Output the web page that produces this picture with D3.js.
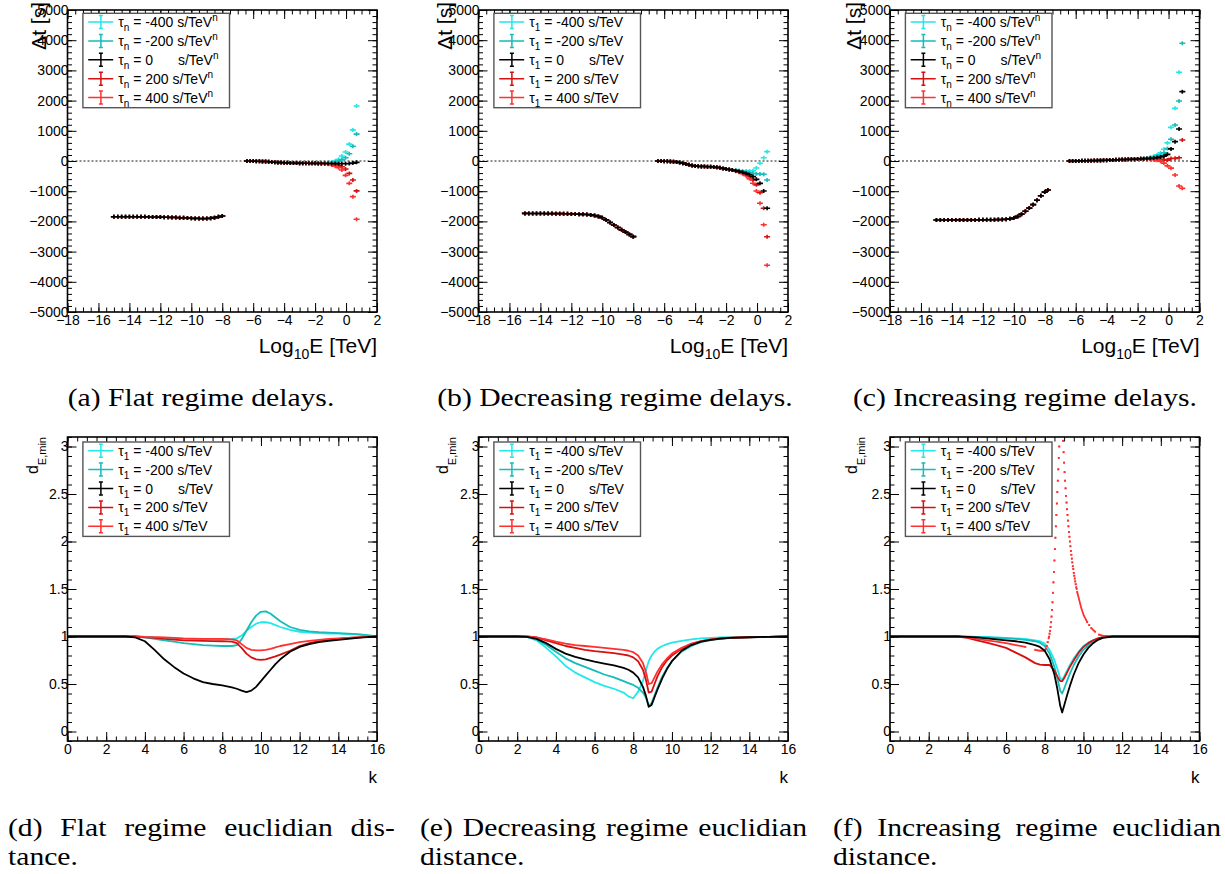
<!DOCTYPE html>
<html>
<head>
<meta charset="utf-8">
<script src="https://cdn.jsdelivr.net/npm/d3@7"></script>
<style>
  body { margin: 0; background: #fff; }
  svg { display: block; }
  text { font-family: "Liberation Sans", Arial, sans-serif; fill: #000; }
  text.cap { font-family: "Liberation Serif", "DejaVu Serif", serif; font-size: 26px; }
</style>
</head>
<body>
<svg id="fig" width="1225" height="874"></svg>
<script>
// ---------------- series labels ----------------
const tauValues = ["-400", "-200", "0", "200", "400"];

// ---------------- tick labels ----------------
const logETicks = [-18, -16, -14, -12, -10, -8, -6, -4, -2, 0, 2];
const delayTicks = [-5000, -4000, -3000, -2000, -1000, 0, 1000, 2000, 3000, 4000, 5000];
const kTicks = [0, 2, 4, 6, 8, 10, 12, 14, 16];
const distTicks = [0, 0.5, 1, 1.5, 2, 2.5, 3];

// ---------------- captions ----------------
const captionsTop = ["(a) Flat regime delays.", "(b) Decreasing regime delays.", "(c) Increasing regime delays."];
const captionsBottomLine1 = ["(d) Flat regime euclidian dis-", "(e) Decreasing regime euclidian", "(f) Increasing regime euclidian"];
const captionsBottomLine2 = ["tance.", "distance.", "distance."];

// ---------------- delays: low-energy branch (same for every tau) ----------------
const lowLogE = [-15, -14.75, -14.5, -14.25, -14, -13.75, -13.5, -13.25, -13, -12.75, -12.5, -12.25, -12,
  -11.75, -11.5, -11.25, -11, -10.75, -10.5, -10.25, -10, -9.75, -9.5, -9.25, -9, -8.75, -8.5, -8.25, -8];
const lowLogEIncr = [-15, -14.75, -14.5, -14.25, -14, -13.75, -13.5, -13.25, -13, -12.75, -12.5, -12.25, -12,
  -11.75, -11.5, -11.25, -11, -10.75, -10.5, -10.25, -10, -9.75, -9.5, -9.25, -9, -8.75, -8.5, -8.25, -8, -7.8];
const lowDelayFlat = [-1845, -1845, -1845, -1846, -1846, -1847, -1848, -1849, -1850, -1852, -1854, -1856, -1858,
  -1861, -1864, -1868, -1872, -1877, -1882, -1888, -1894, -1900, -1906, -1908, -1905, -1895, -1875, -1850, -1822];
const lowDelayDecr = [-1735, -1736, -1737, -1738, -1739, -1740, -1741, -1742, -1743, -1744, -1746, -1748, -1751,
  -1755, -1760, -1766, -1772, -1785, -1805, -1835, -1880, -1950, -2035, -2120, -2200, -2280, -2355, -2430, -2505];
const lowDelayIncr = [-1952, -1952, -1952, -1952, -1951, -1951, -1951, -1950, -1950, -1950, -1950, -1949, -1948,
  -1947, -1946, -1944, -1941, -1937, -1930, -1915, -1885, -1835, -1760, -1665, -1560, -1445, -1300, -1150, -1030, -960];

// ---------------- delays: mid-energy branch (same for every tau) ----------------
const midLogE = [-6.4, -6.2, -6.0, -5.8, -5.6, -5.4, -5.2, -5.0, -4.8, -4.6, -4.4, -4.2, -4.0,
  -3.8, -3.6, -3.4, -3.2, -3.0, -2.8, -2.6, -2.4, -2.2, -2.0, -1.8, -1.6];
const midDelayFlat = [0, -2, -4, -7, -10, -14, -19, -25, -32, -40, -47, -53, -58,
  -62, -65, -68, -70, -72, -74, -75, -76, -77, -78, -79, -80];
const midDelayDecr = [0, -3, -6, -10, -15, -22, -32, -48, -72, -100, -125, -148, -163,
  -172, -178, -184, -188, -192, -200, -210, -225, -245, -265, -282, -297];
const midDelayIncr = [0, 1, 2, 3, 5, 7, 9, 11, 14, 17, 20, 23, 26,
  30, 34, 38, 42, 46, 50, 54, 58, 62, 66, 71, 77];

// ---------------- delays: high-energy tails, one per tau ----------------
const tailLogEFlat = [-1.38, -1.16, -0.93, -0.7, -0.48, -0.27, -0.03, 0.21, 0.44, 0.68];
const tailFlatM400 = [-70, -55, -30, 0, 56, 165, 300, 560, 1030, 1820];
const tailFlatM200 = [-78, -72, -62, -40, -10, 40, 110, 240, 490, 890];
const tailFlat0 = [-82, -84, -85, -86, -87, -88, -88, -85, -70, -45];
const tailFlatP200 = [-88, -95, -105, -120, -150, -190, -265, -410, -630, -990];
const tailFlatP400 = [-92, -105, -130, -170, -220, -300, -475, -740, -1180, -1930];

const tailLogEDecr = [-1.38, -1.16, -0.93, -0.7, -0.49, -0.26, -0.04, 0.19, 0.43, 0.65];
const tailDecrM400 = [-303, -317, -328, -330, -327, -321, -232, -76, 110, 310];
const tailDecrM200 = [-312, -331, -352, -370, -391, -409, -424, -430, -440, -630];
const tailDecr0 = [-320, -345, -375, -410, -455, -519, -607, -740, -993, -1567];
const tailDecrP200 = [-328, -359, -398, -450, -519, -629, -790, -1050, -1567, -2506];
const tailDecrP400 = [-336, -373, -421, -490, -583, -739, -993, -1401, -2109, -3454];

const tailLogEIncr = [-1.4, -1.18, -0.96, -0.74, -0.52, -0.3, -0.07, 0.16, 0.42, 0.68, 0.89];
const tailIncrM400 = [100, 122, 154, 202, 270, 390, 600, 1115, 1744, 2937, null];
const tailIncrM200 = [90, 105, 126, 157, 200, 275, 410, 718, 1192, 1987, 3897];
const tailIncr0 = [80, 88, 98, 112, 130, 160, 220, 400, 640, 1060, 2296];
const tailIncrP200 = [70, 71, 70, 67, 60, 45, 30, 82, 88, 110, 695];
const tailIncrP400 = [60, 54, 42, 22, -10, -70, -160, -236, -464, -828, -905];

// ---------------- euclidian distance curves ----------------
const kFlat = [0, 1, 2, 3, 3.5, 4, 4.5, 5, 5.5, 6, 6.5, 7, 7.5, 8, 8.25, 8.5, 8.75, 9, 9.25, 9.5, 9.75, 10,
  10.25, 10.5, 10.75, 11, 11.5, 12, 12.5, 13, 13.5, 14, 14.5, 15, 15.5, 16];
const distFlatM400 = [1, 1, 1, 1, 1, 0.995, 0.99, 0.985, 0.98, 0.975, 0.97, 0.97, 0.97, 0.97, 0.972, 0.975, 0.98, 1.01,
  1.06, 1.1, 1.135, 1.15, 1.15, 1.14, 1.12, 1.1, 1.07, 1.05, 1.04, 1.035, 1.03, 1.03, 1.025, 1.02, 1.01, 1];
const distFlatM200 = [1, 1, 1, 1, 1, 0.99, 0.975, 0.96, 0.945, 0.93, 0.92, 0.91, 0.905, 0.9, 0.9, 0.9, 0.91, 0.97,
  1.06, 1.15, 1.22, 1.26, 1.265, 1.24, 1.2, 1.16, 1.1, 1.07, 1.055, 1.045, 1.04, 1.035, 1.03, 1.025, 1.015, 1];
const distFlat0 = [1, 1, 1, 1, 0.99, 0.95, 0.86, 0.76, 0.68, 0.61, 0.56, 0.52, 0.5, 0.485, 0.475, 0.465, 0.45, 0.43,
  0.415, 0.43, 0.47, 0.53, 0.59, 0.65, 0.71, 0.76, 0.84, 0.89, 0.92, 0.94, 0.955, 0.965, 0.975, 0.985, 0.993, 1];
const distFlatP200 = [1, 1, 1, 1, 1, 0.99, 0.985, 0.975, 0.968, 0.96, 0.957, 0.955, 0.952, 0.95, 0.948, 0.945, 0.93, 0.88,
  0.82, 0.78, 0.76, 0.755, 0.76, 0.775, 0.79, 0.81, 0.85, 0.9, 0.93, 0.95, 0.965, 0.975, 0.985, 0.99, 0.995, 1];
const distFlatP400 = [1, 1, 1, 1, 1, 0.995, 0.993, 0.99, 0.985, 0.98, 0.978, 0.975, 0.975, 0.975, 0.973, 0.97, 0.96, 0.92,
  0.88, 0.86, 0.855, 0.855, 0.86, 0.87, 0.885, 0.9, 0.92, 0.94, 0.955, 0.965, 0.975, 0.98, 0.985, 0.99, 0.995, 1];

const kDecr = [0, 1, 2, 2.5, 3, 3.5, 4, 4.5, 5, 5.5, 6, 6.5, 7, 7.5, 7.75, 8, 8.25, 8.5, 8.65, 8.8, 8.95, 9.1, 9.25,
  9.5, 9.75, 10, 10.5, 11, 11.5, 12, 12.5, 13, 14, 15, 16];
const distDecrM400 = [1, 1, 1, 0.995, 0.96, 0.88, 0.79, 0.69, 0.62, 0.57, 0.52, 0.48, 0.45, 0.41, 0.37, 0.35, 0.42, 0.53,
  0.64, 0.74, 0.8, 0.84, 0.87, 0.9, 0.92, 0.935, 0.955, 0.97, 0.98, 0.985, 0.99, 0.992, 0.995, 0.997, 1];
const distDecrM200 = [1, 1, 1, 0.995, 0.97, 0.91, 0.84, 0.77, 0.72, 0.68, 0.64, 0.6, 0.57, 0.53, 0.51, 0.49, 0.46, 0.41,
  0.36, 0.27, 0.3, 0.38, 0.46, 0.58, 0.67, 0.74, 0.84, 0.9, 0.94, 0.962, 0.975, 0.983, 0.99, 0.995, 1];
const distDecr0 = [1, 1, 1, 0.995, 0.975, 0.93, 0.87, 0.82, 0.785, 0.76, 0.735, 0.715, 0.695, 0.67, 0.65, 0.62, 0.57, 0.47,
  0.38, 0.26, 0.28, 0.36, 0.44, 0.56, 0.66, 0.74, 0.85, 0.91, 0.945, 0.965, 0.978, 0.985, 0.992, 0.996, 1];
const distDecrP200 = [1, 1, 1, 1, 0.99, 0.96, 0.93, 0.9, 0.88, 0.86, 0.845, 0.835, 0.825, 0.81, 0.8, 0.78, 0.74, 0.65,
  0.55, 0.41, 0.42, 0.5, 0.58, 0.68, 0.75, 0.8, 0.87, 0.92, 0.95, 0.968, 0.979, 0.986, 0.992, 0.996, 1];
const distDecrP400 = [1, 1, 1, 1, 0.99, 0.97, 0.945, 0.925, 0.91, 0.9, 0.89, 0.88, 0.87, 0.86, 0.85, 0.835, 0.8, 0.72,
  0.63, 0.5, 0.51, 0.57, 0.63, 0.71, 0.77, 0.82, 0.88, 0.925, 0.952, 0.97, 0.98, 0.987, 0.993, 0.996, 1];

const kIncr = [0, 1, 2, 3, 3.5, 4, 4.5, 5, 5.5, 6, 6.5, 7, 7.5, 7.75, 8, 8.25, 8.5, 8.65, 8.8, 8.9, 9, 9.15, 9.3,
  9.5, 9.75, 10, 10.25, 10.5, 10.75, 11, 11.5, 12, 13, 14, 15, 16];
const distIncrM400 = [1, 1, 1, 1, 1, 0.998, 0.997, 0.995, 0.99, 0.985, 0.98, 0.975, 0.96, 0.95, 0.925, 0.86, 0.75, 0.66,
  0.56, 0.545, 0.58, 0.64, 0.7, 0.77, 0.84, 0.9, 0.935, 0.96, 0.98, 0.993, 1, 1, 1, 1, 1, 1];
const distIncrM200 = [1, 1, 1, 1, 1, 0.998, 0.995, 0.99, 0.985, 0.98, 0.975, 0.965, 0.95, 0.935, 0.9, 0.82, 0.68, 0.56,
  0.43, 0.4, 0.45, 0.53, 0.61, 0.7, 0.79, 0.86, 0.91, 0.95, 0.975, 0.99, 1, 1, 1, 1, 1, 1];
const distIncr0 = [1, 1, 1, 1, 1, 0.995, 0.99, 0.98, 0.97, 0.96, 0.95, 0.935, 0.91, 0.89, 0.85, 0.76, 0.6, 0.45,
  0.27, 0.2, 0.27, 0.38, 0.48, 0.6, 0.72, 0.81, 0.88, 0.93, 0.965, 0.985, 1, 1, 1, 1, 1, 1];
const distIncrP200 = [1, 1, 1, 1, 1, 0.985, 0.96, 0.935, 0.91, 0.88, 0.83, 0.78, 0.72, 0.705, 0.7, 0.7, 0.64, 0.58,
  0.53, 0.53, 0.56, 0.62, 0.68, 0.75, 0.83, 0.89, 0.93, 0.96, 0.98, 0.993, 1, 1, 1, 1, 1, 1];
// the +400 curve in the increasing regime has a narrow peak, sampled finely there
const kIncrP400 = [0, 1, 2, 3, 3.5, 4, 4.5, 5, 5.5, 6, 6.5, 7, 7.5, 7.75, 8, 8.05, 8.1, 8.15, 8.2,
  8.225, 8.25, 8.275, 8.3, 8.325, 8.35, 8.375, 8.4, 8.425, 8.45, 8.475, 8.5, 8.525, 8.55, 8.575, 8.6,
  8.625, 8.65, 8.675, 8.7, 8.725, 8.75, 8.775, 8.8, 8.85, 8.9, 8.925, 8.95, 8.975,
  9, 9.025, 9.05, 9.075, 9.1, 9.125, 9.15, 9.175, 9.2, 9.225, 9.25, 9.275, 9.3, 9.325, 9.35, 9.375,
  9.4, 9.425, 9.45, 9.475, 9.5, 9.525, 9.55, 9.575, 9.6, 9.625, 9.65, 9.675, 9.7, 9.725, 9.75, 9.775,
  9.8, 9.825, 9.85, 9.875, 9.9, 9.925, 9.95, 9.975, 10, 10.05, 10.1, 10.15, 10.2, 10.3, 10.4, 10.5, 10.6,
  10.8, 11, 11.5, 12, 13, 14, 15, 16];
const distIncrP400 = [1, 1, 1, 1, 1, 0.99, 0.975, 0.96, 0.945, 0.93, 0.91, 0.89, 0.86, 0.85, 0.85, 0.87, 0.9, 0.94, 0.98,
  1.0, 1.03, 1.06, 1.1, 1.15, 1.21, 1.28, 1.36, 1.46, 1.57, 1.68, 1.8, 1.92, 2.04, 2.16, 2.28,
  2.4, 2.52, 2.64, 2.76, 2.88, 3.0, 3.12, 3.24, 3.4, 3.3, 3.18, 3.06, 2.94,
  2.83, 2.73, 2.64, 2.56, 2.48, 2.41, 2.34, 2.28, 2.22, 2.16, 2.1, 2.05, 2.0, 1.95, 1.9, 1.86,
  1.82, 1.78, 1.74, 1.71, 1.67, 1.64, 1.61, 1.58, 1.55, 1.52, 1.5, 1.47, 1.45, 1.43, 1.41, 1.39,
  1.37, 1.35, 1.33, 1.31, 1.29, 1.28, 1.26, 1.25, 1.23, 1.21, 1.19, 1.17, 1.15, 1.12, 1.09, 1.07, 1.05,
  1.02, 1.01, 1, 1, 1, 1, 1, 1];

// ---------------- styling ----------------
const tauColors = ["#22e8e8", "#14bcbc", "#000000", "#d41010", "#ff3030"];
const drawOrder = [0, 1, 3, 4, 2];          // black on top
const colLeft = [67.5, 478.5, 890];
const frameW = 309.5;
const topFrame = [10, 312];
const botFrame = [437, 741];
const fmt = d => (d < 0 ? "\u2212" : "") + Math.abs(d);

const svg = d3.select("#fig");
const defs = svg.append("defs");

function frameClip(id, x0, y0, x1, y1) {
  defs.append("clipPath").attr("id", id).append("rect")
    .attr("x", x0).attr("y", y0).attr("width", x1 - x0).attr("height", y1 - y0);
  return `url(#${id})`;
}

function drawAxes(g, x, y, xMajor, xMinorStep, yMajor, yMinorStep) {
  const [xa, xb] = x.range();
  const [ya, yb] = y.range(); // ya bottom, yb top
  const xd = x.domain(), yd = y.domain();
  const xMinor = d3.range(xd[0], xd[1] + 1e-9, xMinorStep);
  const yMinor = d3.range(Math.ceil(yd[0] / yMinorStep - 1e-9) * yMinorStep, yd[1] + 1e-9, yMinorStep);
  const ax = [
    [d3.axisBottom(x).tickValues(xMinor).tickSize(-4.5).tickFormat(""), `translate(0,${ya})`],
    [d3.axisBottom(x).tickValues(xMajor).tickSize(-9).tickPadding(3).tickFormat(fmt), `translate(0,${ya})`],
    [d3.axisTop(x).tickValues(xMinor).tickSize(-4.5).tickFormat(""), `translate(0,${yb})`],
    [d3.axisTop(x).tickValues(xMajor).tickSize(-9).tickFormat(""), `translate(0,${yb})`],
    [d3.axisLeft(y).tickValues(yMinor).tickSize(-4.5).tickFormat(""), `translate(${xa},0)`],
    [d3.axisLeft(y).tickValues(yMajor).tickSize(-9).tickPadding(-1).tickFormat(fmt), `translate(${xa},0)`],
    [d3.axisRight(y).tickValues(yMinor).tickSize(-4.5).tickFormat(""), `translate(${xb},0)`],
    [d3.axisRight(y).tickValues(yMajor).tickSize(-9).tickFormat(""), `translate(${xb},0)`]
  ];
  ax.forEach(([a, tr]) => {
    const gg = g.append("g").attr("transform", tr).call(a);
    gg.select(".domain").remove();
    gg.selectAll("line").attr("stroke", "#000").attr("stroke-width", 1);
    gg.selectAll("text").attr("font-size", 14).attr("fill", "#000")
      .attr("font-family", '"Liberation Sans", Arial, sans-serif');
  });
  g.append("rect").attr("x", xa).attr("y", yb).attr("width", xb - xa).attr("height", ya - yb)
    .attr("fill", "none").attr("stroke", "#000").attr("stroke-width", 1.6);
}

function drawLegend(g, bx, by, sub, sup) {
  g.append("rect").attr("x", bx).attr("y", by).attr("width", 146.6).attr("height", 94.4)
    .attr("fill", "#fff").attr("stroke", "#555").attr("stroke-width", 1.4);
  tauValues.forEach((v, i) => {
    const cy = by + 8.7 + 18.9 * i;
    const c = tauColors[i];
    const mx = bx + 18;
    g.append("path")
      .attr("d", `M${bx + 5.3},${cy}H${bx + 30.3}M${mx},${cy - 6.5}V${cy + 6.5}M${mx - 2},${cy - 6.5}H${mx + 2}M${mx - 2},${cy + 6.5}H${mx + 2}`)
      .attr("stroke", c).attr("stroke-width", 1.5).attr("fill", "none");
    const t = g.append("text").attr("x", bx + 35.3).attr("y", cy + 5).attr("font-size", 14);
    t.append("tspan").text("\u03c4");
    t.append("tspan").attr("font-size", 10).attr("dy", 4).text(sub);
    const unitText = (tt) => {
      tt.append("tspan").text("s/TeV");
      if (sup) tt.append("tspan").attr("font-size", 10).attr("dy", -6).text(sup);
    };
    if (v === "0") {
      t.append("tspan").attr("dy", -4).text(" = 0");
      const u = g.append("text").attr("x", bx + 95).attr("y", cy + 5).attr("font-size", 14);
      unitText(u);
    } else {
      t.append("tspan").attr("dy", -4).text(` = ${v} `);
      unitText(t);
    }
  });
}

// ---------------- delay panels ----------------
const delayPanels = [
  { lowE: lowLogE, low: lowDelayFlat, mid: midDelayFlat, tailE: tailLogEFlat,
    tails: [tailFlatM400, tailFlatM200, tailFlat0, tailFlatP200, tailFlatP400], sub: "n", sup: "n", titleGap: 22 },
  { lowE: lowLogE, low: lowDelayDecr, mid: midDelayDecr, tailE: tailLogEDecr,
    tails: [tailDecrM400, tailDecrM200, tailDecr0, tailDecrP200, tailDecrP400], sub: "1", sup: null, titleGap: 27 },
  { lowE: lowLogEIncr, low: lowDelayIncr, mid: midDelayIncr, tailE: tailLogEIncr,
    tails: [tailIncrM400, tailIncrM200, tailIncr0, tailIncrP200, tailIncrP400], sub: "n", sup: "n", titleGap: 29 }
];

delayPanels.forEach((p, pi) => {
  const x0 = colLeft[pi], x1 = x0 + frameW;
  const x = d3.scaleLinear().domain([-18, 2]).range([x0, x1]);
  const y = d3.scaleLinear().domain([-5000, 5000]).range([topFrame[1], topFrame[0]]);
  const g = svg.append("g");
  const clip = frameClip(`clipTop${pi}`, x0, topFrame[0], x1, topFrame[1]);
  const plot = g.append("g").attr("clip-path", clip);

  plot.append("line").attr("x1", x0).attr("x2", x1).attr("y1", y(0)).attr("y2", y(0))
    .attr("stroke", "#666").attr("stroke-width", 1.5).attr("stroke-dasharray", "2,2");

  drawOrder.forEach(si => {
    const pts = [];
    p.lowE.forEach((e, i) => pts.push([e, p.low[i]]));
    midLogE.forEach((e, i) => pts.push([e, p.mid[i]]));
    p.tailE.forEach((e, i) => { if (p.tails[si][i] != null) pts.push([e, p.tails[si][i]]); });
    plot.append("path")
      .attr("d", pts.map(([e, v]) => `M${x(e) - 3},${y(v)}h6M${x(e)},${y(v) - 2}v4`).join(""))
      .attr("stroke", tauColors[si]).attr("stroke-width", 1.6).attr("fill", "none");
  });

  drawAxes(g, x, y, logETicks, 0.5, delayTicks, 200);
  drawLegend(g, x0 + 15.4, topFrame[0] + 3.3, p.sub, p.sup);

  // axis titles
  g.append("text").attr("transform", `translate(${x0 - p.titleGap},2) rotate(-90)`)
    .attr("text-anchor", "end").attr("font-size", 21).text("\u0394t [s]");
  const xt = g.append("text").attr("x", x1).attr("y", 353).attr("text-anchor", "end").attr("font-size", 21);
  xt.append("tspan").text("Log");
  xt.append("tspan").attr("font-size", 14).attr("dy", 6).text("10");
  xt.append("tspan").attr("dy", -6).text("E [TeV]");
});

// ---------------- distance panels ----------------
const distPanels = [
  { ks: [kFlat, kFlat, kFlat, kFlat, kFlat],
    ds: [distFlatM400, distFlatM200, distFlat0, distFlatP200, distFlatP400],
    sparse: [false, false, false, false, false], titleGap: 30 },
  { ks: [kDecr, kDecr, kDecr, kDecr, kDecr],
    ds: [distDecrM400, distDecrM200, distDecr0, distDecrP200, distDecrP400],
    sparse: [false, false, false, false, false], titleGap: 31 },
  { ks: [kIncr, kIncr, kIncr, kIncr, kIncrP400],
    ds: [distIncrM400, distIncrM200, distIncr0, distIncrP200, distIncrP400],
    sparse: [false, false, false, false, true], titleGap: 33 }
];

distPanels.forEach((p, pi) => {
  const x0 = colLeft[pi], x1 = x0 + frameW;
  const x = d3.scaleLinear().domain([0, 16]).range([x0, x1]);
  const y = d3.scaleLinear().domain([-0.1, 3.1]).range([botFrame[1], botFrame[0]]);
  const g = svg.append("g");
  const clip = frameClip(`clipBot${pi}`, x0, botFrame[0], x1, botFrame[1]);
  const plot = g.append("g").attr("clip-path", clip);

  drawOrder.forEach(si => {
    const ks = p.ks[si], ds = p.ds[si];
    const pts = ks.map((k, i) => [x(k), y(ds[i])]);
    let d = "";
    const dots = [];
    pts.forEach((pt, i) => {
      if (i === 0) { d += `M${pt[0]},${pt[1]}`; return; }
      const q = pts[i - 1];
      // where the markers of a finely sampled curve spread apart they stay separate dots
      if (p.sparse[si] && Math.abs(pt[1] - q[1]) > 2) { d += `M${pt[0]},${pt[1]}`; dots.push(q, pt); }
      else d += `L${pt[0]},${pt[1]}`;
    });
    plot.append("path").attr("d", d).attr("fill", "none")
      .attr("stroke", tauColors[si]).attr("stroke-width", 1.8).attr("stroke-linejoin", "round");
    plot.append("g").selectAll("rect").data(dots).join("rect")
      .attr("x", q => q[0] - 0.9).attr("y", q => q[1] - 0.9).attr("width", 1.8).attr("height", 1.8)
      .attr("fill", tauColors[si]);
  });

  drawAxes(g, x, y, kTicks, 0.5, distTicks, 0.1);
  drawLegend(g, x0 + 15.4, botFrame[0] + 5, "1", null);

  const yt = g.append("text").attr("transform", `translate(${x0 - p.titleGap},${botFrame[0]}) rotate(-90)`)
    .attr("text-anchor", "end").attr("font-size", 16);
  yt.append("tspan").text("d");
  yt.append("tspan").attr("font-size", 11).attr("dy", 8).text("E,min");
  g.append("text").attr("x", x1).attr("y", 783).attr("text-anchor", "end").attr("font-size", 17).text("k");
});

// ---------------- captions ----------------
const capStretch = 1.14;
const topCapCenters = [201, 615, 1025];
captionsTop.forEach((c, i) => {
  const t = svg.append("text").attr("class", "cap").attr("x", topCapCenters[i]).attr("y", 406)
    .attr("text-anchor", "middle").text(c);
  const w = t.node().getComputedTextLength();
  t.attr("textLength", w * capStretch).attr("lengthAdjust", "spacingAndGlyphs");
});

const botCapLeft = [8, 420, 833];
const botCapRight = [395, 807, 1221];
captionsBottomLine1.forEach((c, i) => {
  const words = c.split(" ");
  const nodes = words.map(wd => {
    const t = svg.append("text").attr("class", "cap").attr("y", 836).text(wd);
    const len = t.node().getComputedTextLength() * capStretch;
    t.attr("textLength", len).attr("lengthAdjust", "spacingAndGlyphs");
    return { t, len };
  });
  const gap = (botCapRight[i] - botCapLeft[i] - d3.sum(nodes, n => n.len)) / (nodes.length - 1);
  let xx = botCapLeft[i];
  nodes.forEach(n => { n.t.attr("x", xx); xx += n.len + gap; });
});
captionsBottomLine2.forEach((c, i) => {
  const t = svg.append("text").attr("class", "cap").attr("x", botCapLeft[i]).attr("y", 865).text(c);
  const w = t.node().getComputedTextLength();
  t.attr("textLength", w * capStretch).attr("lengthAdjust", "spacingAndGlyphs");
});
</script>
</body>
</html>
